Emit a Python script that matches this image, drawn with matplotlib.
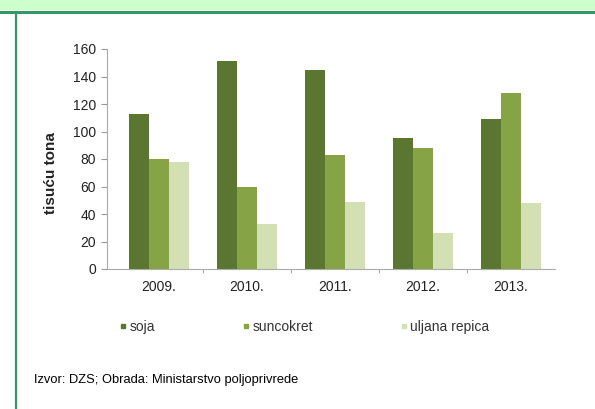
#!/usr/bin/env python3
import matplotlib

matplotlib.use("Agg")
import matplotlib.pyplot as plt
import numpy as np
from matplotlib.patches import Rectangle
from matplotlib.lines import Line2D

years = ["2009.", "2010.", "2011.", "2012.", "2013."]
soja = [113, 151, 145, 95, 109]
suncokret = [80, 60, 83, 88, 128]
uljana_repica = [78, 33, 49, 26, 48]
series_names = ["soja", "suncokret", "uljana repica"]
y_ticks = [0, 20, 40, 60, 80, 100, 120, 140, 160]

colors = ["#5b7631", "#86a345", "#d3e0b4"]


def main() -> None:
    plt.rcParams["font.family"] = ["Liberation Sans", "DejaVu Sans"]
    fig = plt.figure(figsize=(5.95, 4.09), dpi=100)

    # frame decoration: light green top band, dark green rule and left border
    fig.patches.append(Rectangle((0, 1 - 10 / 409), 1, 10 / 409, transform=fig.transFigure,
                                 facecolor="#ccffcc", edgecolor="none", zorder=0))
    fig.lines.append(Line2D([0, 1], [1 - 11.5 / 409] * 2, transform=fig.transFigure,
                            color="#339966", linewidth=2.2))
    fig.lines.append(Line2D([15.5 / 595] * 2, [0, 1 - 11.5 / 409], transform=fig.transFigure,
                            color="#339966", linewidth=1.6))

    ax = fig.add_axes([107 / 595, 1 - 269 / 409, (555 - 107) / 595, (269 - 49) / 409])
    x = np.arange(len(years))
    width = 0.227
    for idx, (vals, name) in enumerate(zip([soja, suncokret, uljana_repica], series_names)):
        ax.bar(x + (idx - 1) * width, vals, width=width, color=colors[idx], label=name,
               edgecolor="none")

    ax.set_xlim(-0.59, 4.5)
    ax.set_ylim(0, 160)
    ax.set_yticks(y_ticks)
    ax.set_xticks(x, years)
    ax.set_xticks(x[:-1] + 0.5, minor=True)
    ax.tick_params(axis="y", labelsize=10, length=4, color="#999999", pad=4, labelcolor="#222222")
    ax.tick_params(axis="x", which="major", labelsize=10, length=0, pad=8, labelcolor="#222222")
    ax.tick_params(axis="x", which="minor", length=3, color="#999999")
    for side in ["top", "right"]:
        ax.spines[side].set_visible(False)
    ax.spines["left"].set_color("#aaaaaa")
    ax.spines["bottom"].set_color("#aaaaaa")

    fig.text(51 / 595, 1 - 173 / 409, "tisuću tona", rotation=90, fontsize=11,
             fontweight="bold", ha="center", va="center", color="#222222")

    handles = [Line2D([], [], marker="s", linestyle="none", markersize=3.5, color=c) for c in colors]
    fig.legend(handles, series_names, loc="center left", bbox_to_anchor=(120 / 595, 1 - 327 / 409),
               ncols=3, frameon=False, fontsize=10, columnspacing=6.3, handletextpad=0.2,
               handlelength=0.5, borderpad=0, borderaxespad=0, labelcolor="#333333")

    fig.text(34 / 595, 1 - 380 / 409, "Izvor: DZS; Obrada: Ministarstvo poljoprivrede",
             fontsize=9.3, va="center", ha="left")

    fig.savefig("out.png", dpi=100)
    plt.close(fig)


if __name__ == "__main__":
    main()
